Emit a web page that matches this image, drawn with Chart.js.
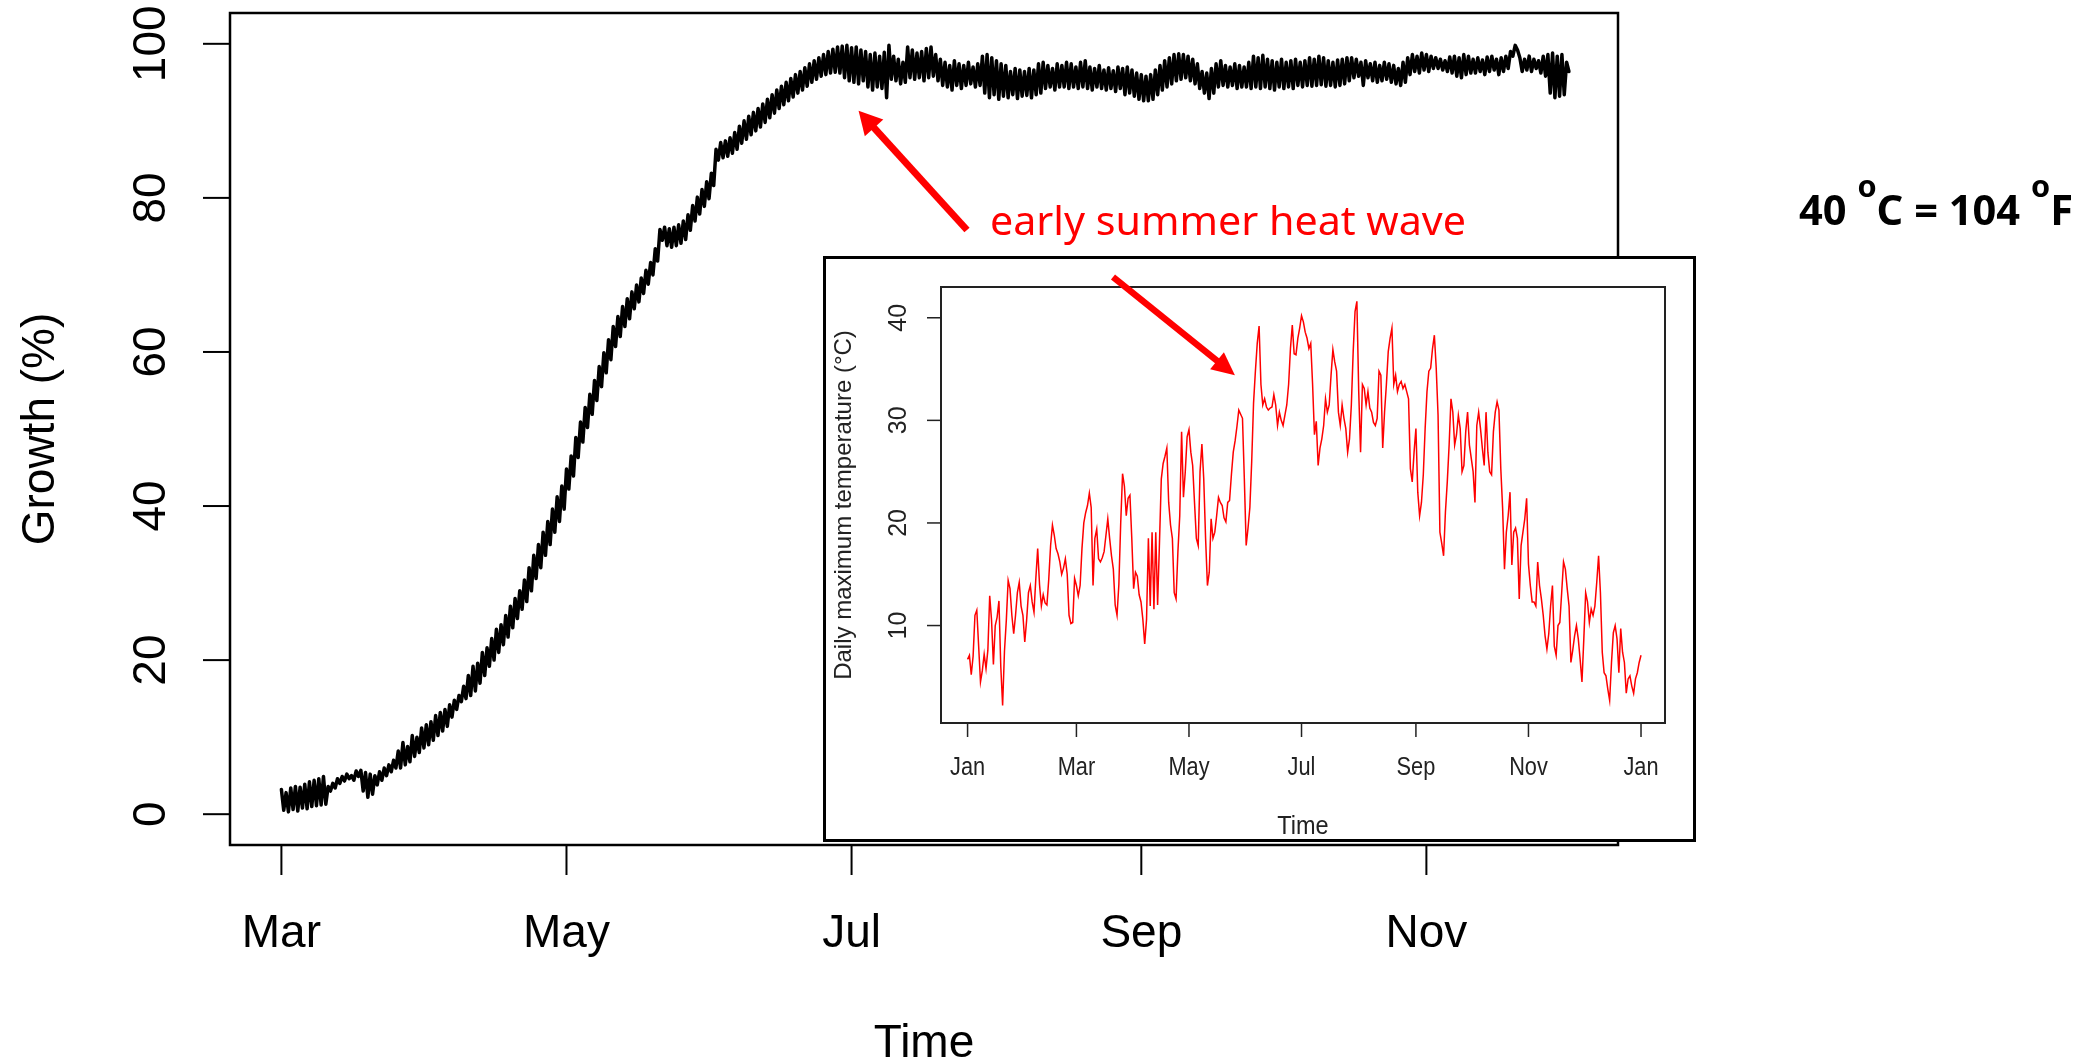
<!DOCTYPE html>
<html>
<head>
<meta charset="utf-8">
<script src="https://cdn.jsdelivr.net/npm/chart.js@4.4.0/dist/chart.umd.min.js"></script>
<style>
  html, body { margin: 0; padding: 0; background: #fff; }
  #page { position: relative; width: 2093px; height: 1061px; overflow: hidden; background: #fff; }
  #growthChart { position: absolute; left: 0; top: 0; }
  #tempChart { position: absolute; left: 823px; top: 256px; background: #fff; }
</style>
</head>
<body>
<div id="page">
  <canvas id="growthChart" width="2093" height="1061"></canvas>
  <canvas id="tempChart" width="873" height="586"></canvas>
</div>
<script>
// Main chart: day 0 = 1 March, one daily high and one daily low reading
const growthHigh = [
  3.2, 2.8, 3.4, 3.6, 3.5, 3.9, 4.2, 4.4, 4.6, 4.9,
  3.6, 4.0, 4.6, 4.9, 5.2, 5.0, 5.6, 5.7, 5.4, 5.2,
  5.0, 5.5, 6.0, 6.4, 7.0, 8.2, 9.3, 8.8, 10.2, 10.0,
  11.2, 11.6, 12.0, 12.8, 13.2, 13.6, 14.2, 14.8, 15.4, 16.6,
  18.0, 19.2, 19.6, 21.0, 21.6, 22.8, 24.0, 24.6, 25.8, 27.0,
  28.0, 29.0, 30.4, 32.0, 33.6, 35.0, 36.6, 38.0, 39.6, 41.2,
  42.6, 44.8, 46.5, 48.9, 50.9, 52.8, 54.5, 56.3, 58.1, 59.9,
  61.6, 63.3, 64.6, 65.9, 66.9, 67.8, 68.7, 69.6, 70.6, 71.6,
  73.4, 75.9, 76.2, 76.0, 76.2, 76.5, 77.0, 77.8, 79.0, 80.1,
  81.1, 82.1, 83.2, 86.3, 87.2, 87.4, 87.8, 88.5, 89.3, 90.0,
  90.6, 91.1, 91.6, 92.2, 92.8, 93.4, 94.0, 94.5, 95.0, 95.5,
  96.0, 96.4, 96.9, 97.4, 97.8, 98.2, 98.6, 99.0, 99.3, 99.6,
  99.7, 99.8, 99.5, 99.6, 99.2, 99.0, 98.6, 98.8, 98.4, 98.9,
  99.8, 98.4, 98.0, 97.6, 99.6, 99.2, 98.8, 99.0, 99.4, 99.6,
  98.6, 98.0, 97.6, 97.2, 97.8, 97.4, 97.2, 97.6, 97.0, 97.4,
  98.4, 98.6, 98.2, 97.8, 97.4, 97.2, 96.4, 96.8, 96.6, 96.4,
  96.8, 96.6, 97.4, 97.6, 97.2, 96.8, 97.4, 97.2, 97.6, 97.4,
  97.0, 97.6, 97.8, 97.0, 96.8, 97.2, 96.6, 96.9, 96.5, 97.0,
  96.8, 97.0, 96.6, 96.2, 96.0, 95.8, 96.0, 96.6, 97.2, 97.8,
  98.2, 98.6, 98.7, 98.6, 98.4, 98.0, 97.4, 96.4, 96.2, 96.8,
  97.4, 97.8, 97.2, 97.0, 97.4, 97.2, 97.0, 97.6, 98.4, 98.2,
  98.5, 98.0, 97.8, 97.6, 98.0, 97.6, 97.8, 98.0, 97.6, 97.8,
  98.2, 98.0, 98.4, 98.2, 97.8, 97.6, 97.9, 98.0, 98.2, 98.2,
  98.0, 97.6, 97.8, 97.4, 97.6, 97.2, 97.6, 97.4, 97.2, 96.8,
  97.6, 98.2, 98.6, 98.4, 98.8, 98.6, 98.4, 98.2, 98.0, 97.8,
  98.3, 98.4, 98.2, 98.6, 98.4, 98.0, 98.2, 97.9, 98.3, 98.4,
  98.0, 98.2, 98.4, 99.0, 99.8, 98.2, 98.0, 98.4, 98.0, 97.8,
  98.4, 98.6, 98.8, 98.4, 98.6, 97.6
];
const growthLow = [
  0.5, 0.3, 0.6, 0.4, 0.8, 0.7, 1.0, 1.1, 1.2, 1.3,
  3.0, 3.4, 4.0, 4.3, 4.6, 4.4, 4.9, 3.0, 2.2, 2.6,
  3.8, 4.4, 5.0, 5.5, 6.0, 6.0, 6.4, 6.8, 7.5, 8.0,
  8.6, 9.0, 9.6, 10.2, 10.8, 11.4, 12.6, 13.6, 14.6, 15.0,
  15.4, 16.0, 17.0, 18.0, 19.2, 20.0, 21.0, 22.0, 23.0, 24.2,
  25.4, 26.6, 27.6, 29.0, 30.6, 32.0, 33.6, 35.0, 36.6, 38.0,
  39.6, 42.2, 43.9, 46.3, 48.3, 50.2, 51.9, 53.7, 55.5, 57.3,
  59.0, 60.7, 62.0, 63.3, 64.3, 65.6, 66.5, 67.6, 68.8, 70.0,
  71.8, 74.5, 73.8, 73.6, 73.8, 74.1, 74.6, 75.8, 77.0, 77.9,
  78.9, 79.9, 81.6, 84.9, 85.2, 85.4, 85.8, 86.3, 87.1, 87.6,
  88.2, 88.7, 89.2, 89.8, 90.4, 91.0, 91.6, 92.1, 92.6, 93.1,
  93.6, 94.0, 94.5, 95.0, 95.4, 95.8, 96.0, 96.2, 96.3, 96.2,
  95.6, 95.2, 95.0, 94.8, 95.2, 94.4, 94.0, 94.4, 94.2, 93.0,
  95.4, 95.2, 94.8, 95.0, 95.6, 95.4, 95.6, 95.2, 95.6, 95.8,
  95.2, 94.6, 94.4, 94.0, 94.6, 94.2, 94.6, 94.8, 94.4, 94.6,
  93.6, 93.0, 93.4, 92.8, 93.2, 93.0, 93.4, 92.9, 93.2, 93.3,
  93.0, 93.4, 93.6, 94.2, 94.4, 94.0, 94.4, 94.4, 94.2, 94.4,
  94.2, 94.4, 94.2, 94.0, 94.4, 94.2, 94.0, 94.2, 93.8, 94.2,
  93.4, 93.6, 93.2, 92.8, 92.6, 92.6, 92.8, 93.4, 94.0, 94.4,
  94.8, 95.2, 95.4, 95.6, 95.2, 94.8, 94.2, 93.6, 92.9, 93.6,
  94.4, 94.6, 94.4, 94.6, 94.2, 94.4, 94.4, 94.2, 94.4, 94.2,
  94.4, 94.2, 94.0, 94.4, 94.2, 94.4, 94.2, 94.6, 94.4, 94.6,
  94.5, 94.6, 94.7, 94.5, 94.6, 94.4, 94.6, 94.8, 95.2, 95.6,
  95.8, 94.6, 95.6, 95.2, 95.0, 95.2, 95.4, 95.0, 94.8, 94.6,
  95.0, 96.0, 96.4, 96.2, 96.6, 96.4, 96.8, 96.8, 96.6, 96.4,
  96.2, 95.8, 95.6, 96.0, 96.2, 96.2, 96.4, 96.0, 96.4, 96.6,
  96.0, 96.4, 96.8, 98.4, 99.2, 96.4, 96.6, 96.4, 96.8, 96.2,
  95.8, 93.6, 93.0, 93.2, 93.4, 96.4
];
const growthTickDays = [0, 61, 122, 184, 245];
const growthTickLabels = ['Mar', 'May', 'Jul', 'Sep', 'Nov'];
const growthYTicks = [0, 20, 40, 60, 80, 100];

// Inset: daily maximum temperature, day 0 = 1 January
const tempMax = [
  6.7, 7.1, 5.2, 7.0, 11.0, 11.5, 8.0, 4.5, 5.6, 7.2,
  5.8, 7.6, 12.9, 10.5, 6.2, 10.0, 10.8, 12.4, 6.0, 2.2,
  7.5, 10.5, 14.4, 13.6, 11.0, 9.2, 11.0, 13.2, 14.2, 11.9,
  11.0, 8.4, 10.5, 13.2, 13.9, 12.3, 11.3, 14.6, 17.5, 14.0,
  11.9, 13.0, 12.2, 12.0, 14.5, 17.8, 19.8, 18.8, 17.5, 17.0,
  16.2, 15.0, 15.6, 16.5, 15.0, 11.0, 10.2, 10.3, 14.6, 13.9,
  12.9, 13.9, 17.5, 20.0, 21.0, 21.7, 22.9, 21.5, 13.9, 18.5,
  19.4, 16.5, 16.2, 16.6, 17.2, 18.8, 20.4, 18.5, 16.8, 15.5,
  12.0, 11.0, 14.0, 20.0, 24.8, 23.6, 20.7, 22.4, 22.7, 18.5,
  13.6, 15.2, 14.8, 13.0, 12.3, 10.6, 8.2, 10.6, 18.5, 11.9,
  19.1, 11.6, 19.1, 12.0, 18.0, 24.3, 25.8, 26.5, 27.3, 22.0,
  19.8, 18.5, 13.2, 12.6, 17.2, 20.7, 28.9, 22.5, 25.0, 28.4,
  29.1, 26.9, 25.6, 22.0, 18.5, 17.8, 25.0, 27.7, 24.3, 18.5,
  13.9, 15.2, 20.4, 18.5, 19.1, 20.7, 22.5, 22.0, 21.7, 20.5,
  20.1, 22.0, 22.2, 24.7, 26.9, 28.0, 29.4, 31.0, 30.6, 30.2,
  24.3, 17.8, 19.5, 21.5, 26.0, 31.7, 34.8, 37.5, 39.2, 33.5,
  31.5, 32.1, 31.3, 31.0, 31.2, 31.3, 32.5, 31.5, 29.5, 30.8,
  30.0, 29.5, 30.5, 31.5, 33.5, 37.0, 39.3, 36.5, 36.4, 38.0,
  39.0, 40.2, 39.6, 38.6, 38.0, 37.0, 37.5, 33.5, 28.6, 29.9,
  25.6, 27.3, 28.2, 29.5, 32.1, 30.8, 31.5, 34.4, 36.9, 35.7,
  34.8, 30.8, 29.5, 31.5, 30.2, 29.2, 26.9, 28.2, 31.5, 36.7,
  40.6, 41.6, 32.8, 26.9, 33.5, 33.1, 31.5, 32.8, 31.2, 30.8,
  29.8, 29.5, 30.2, 34.8, 34.4, 27.3, 30.8, 33.5, 36.7, 38.0,
  39.0, 33.5, 34.4, 32.8, 33.5, 33.8, 33.1, 33.5, 32.8, 32.1,
  25.3, 24.0, 26.9, 29.2, 23.0, 20.7, 22.0, 24.7, 29.2, 32.8,
  34.8, 35.1, 37.0, 38.3, 35.1, 30.5, 19.1, 18.0, 16.8, 21.1,
  24.0, 27.6, 32.1, 30.8, 27.6, 28.6, 30.5, 29.2, 25.0, 25.6,
  28.9, 30.8, 27.6, 26.3, 25.0, 22.0, 29.5, 30.8, 29.2, 27.3,
  25.6, 30.8, 26.9, 25.0, 24.7, 28.9, 30.8, 31.8, 31.0, 25.3,
  21.4, 15.5, 19.1, 20.7, 23.0, 15.9, 19.1, 19.5, 18.5, 12.6,
  17.8, 19.1, 20.4, 22.4, 16.0, 13.9, 12.3, 12.3, 11.9, 16.2,
  13.9, 12.6, 11.0, 9.0, 7.7, 9.2, 11.9, 13.9, 8.0, 7.1,
  10.0, 10.3, 13.2, 16.2, 15.5, 13.6, 11.9, 6.4, 7.6, 9.0,
  10.0, 8.7, 6.7, 4.5, 8.7, 13.2, 12.3, 10.3, 11.6, 11.0,
  11.9, 14.2, 16.8, 13.2, 7.4, 5.4, 5.1, 3.8, 2.7, 6.4,
  9.3, 10.0, 8.7, 5.4, 9.7, 7.4, 6.4, 3.4, 4.8, 5.1,
  4.1, 3.4, 4.8, 5.4, 6.4, 7.1
];
const tempTickDays = [0, 59, 120, 181, 243, 304, 365];
const tempTickLabels = ['Jan', 'Mar', 'May', 'Jul', 'Sep', 'Nov', 'Jan'];
const tempYTicks = [10, 20, 30, 40];

const growthPoints = [];
growthHigh.forEach((v, d) => {
  growthPoints.push({ x: d, y: v });
  growthPoints.push({ x: d + 0.5, y: growthLow[d] });
});
const tempPoints = tempMax.map((v, d) => ({ x: d, y: v }));

const SANS = '"Liberation Sans", Arial, Helvetica, sans-serif';

function line(ctx, x0, y0, x1, y1) {
  ctx.beginPath();
  ctx.moveTo(x0, y0);
  ctx.lineTo(x1, y1);
  ctx.stroke();
}

// text rotated to read bottom-to-top, baseline on the right
function upText(ctx, text, x, y) {
  ctx.save();
  ctx.translate(x, y);
  ctx.rotate(-Math.PI / 2);
  ctx.fillText(text, 0, 0);
  ctx.restore();
}

function squeezedText(ctx, text, x, y, sx) {
  ctx.save();
  ctx.translate(x, y);
  ctx.scale(sx, 1);
  ctx.fillText(text, 0, 0);
  ctx.restore();
}

function arrow(ctx, x0, y0, x1, y1, width, headLen, headHalf) {
  const len = Math.hypot(x1 - x0, y1 - y0);
  const ux = (x1 - x0) / len, uy = (y1 - y0) / len;
  const bx = x1 - ux * headLen, by = y1 - uy * headLen;
  ctx.lineWidth = width;
  ctx.lineCap = 'butt';
  line(ctx, x0, y0, bx + ux * 2, by + uy * 2);
  ctx.beginPath();
  ctx.moveTo(x1, y1);
  ctx.lineTo(bx - uy * headHalf, by + ux * headHalf);
  ctx.lineTo(bx + uy * headHalf, by - ux * headHalf);
  ctx.closePath();
  ctx.fill();
}

const growthDecor = {
  id: 'growthDecor',
  afterDraw(chart) {
    const { ctx, chartArea: a, scales: { x, y } } = chart;
    ctx.save();
    ctx.strokeStyle = '#000';
    ctx.fillStyle = '#000';
    ctx.lineWidth = 2.5;
    ctx.strokeRect(a.left, a.top, a.right - a.left, a.bottom - a.top);

    ctx.lineWidth = 2;
    ctx.font = '46px ' + SANS;
    ctx.textAlign = 'center';
    ctx.textBaseline = 'alphabetic';
    growthTickDays.forEach((d, i) => {
      const px = x.getPixelForValue(d);
      line(ctx, px, a.bottom, px, a.bottom + 30);
      ctx.fillText(growthTickLabels[i], px, 947);
    });
    growthYTicks.forEach(v => {
      const py = y.getPixelForValue(v);
      line(ctx, a.left - 27, py, a.left, py);
      upText(ctx, String(v), 165, py);
    });
    ctx.fillText('Time', (a.left + a.right) / 2, 1057);
    upText(ctx, 'Growth (%)', 54, (a.top + a.bottom) / 2);

    // annotation: arrow towards the dip after the heat wave
    ctx.fillStyle = '#ff0000';
    ctx.strokeStyle = '#ff0000';
    arrow(ctx, 967, 230, x.getPixelForValue(123.5), y.getPixelForValue(91.3), 7, 23, 12.5);

    ctx.font = '40px "Noto Sans", "Open Sans", sans-serif';
    ctx.textAlign = 'left';
    const label = 'early summer heat wave';
    squeezedText(ctx, label, 990, 235, 476 / ctx.measureText(label).width);

    // 40 oC = 104 oF, with raised small "o"
    ctx.fillStyle = '#000';
    const big = 'bold 42px "Noto Sans", "Open Sans", sans-serif';
    const small = 'bold 31px "Noto Sans", "Open Sans", sans-serif';
    const parts = [['40 ', big, 0], ['o', small, -28], ['C = 104 ', big, 0], ['o', small, -28], ['F', big, 0]];
    let total = 0;
    parts.forEach(p => { ctx.font = p[1]; total += ctx.measureText(p[0]).width; });
    const sx = 274 / total;
    let cx = 1799;
    parts.forEach(p => {
      ctx.font = p[1];
      squeezedText(ctx, p[0], cx, 225 + p[2], sx);
      cx += ctx.measureText(p[0]).width * sx;
    });
    ctx.restore();
  }
};

const tempDecor = {
  id: 'tempDecor',
  afterDraw(chart) {
    const { ctx, chartArea: a, scales: { x, y } } = chart;
    ctx.save();
    ctx.strokeStyle = '#000';
    ctx.fillStyle = '#222';
    ctx.lineWidth = 3;
    ctx.strokeRect(1.5, 1.5, chart.width - 3, chart.height - 3);

    ctx.strokeStyle = '#222';
    ctx.lineWidth = 2;
    ctx.strokeRect(a.left, a.top, a.right - a.left, a.bottom - a.top);
    ctx.lineWidth = 1.5;
    ctx.font = '25px ' + SANS;
    ctx.textAlign = 'center';
    ctx.textBaseline = 'alphabetic';
    tempTickDays.forEach((d, i) => {
      const px = x.getPixelForValue(d);
      line(ctx, px, a.bottom, px, a.bottom + 14);
      squeezedText(ctx, tempTickLabels[i], px, 519, 0.87);
    });
    tempYTicks.forEach(v => {
      const py = y.getPixelForValue(v);
      line(ctx, a.left - 14, py, a.left, py);
      upText(ctx, String(v), 83, py);
    });
    squeezedText(ctx, 'Time', (a.left + a.right) / 2, 578, 0.94);
    ctx.font = '24px ' + SANS;
    upText(ctx, 'Daily maximum temperature (\u00B0C)', 28, (a.top + a.bottom) / 2);

    ctx.fillStyle = '#ff0000';
    ctx.strokeStyle = '#ff0000';
    arrow(ctx, 290, 21, x.getPixelForValue(144.9), y.getPixelForValue(34.4), 6.5, 23, 11);
    ctx.restore();
  }
};

new Chart(document.getElementById('growthChart'), {
  type: 'line',
  data: {
    datasets: [{
      data: growthPoints,
      borderColor: '#000',
      borderWidth: 3.5,
      pointRadius: 0,
      tension: 0,
      borderJoinStyle: 'round',
      borderCapStyle: 'round'
    }]
  },
  options: {
    responsive: false,
    animation: false,
    events: [],
    layout: { padding: { left: 230, top: 13, right: 475, bottom: 216 } },
    plugins: { legend: { display: false }, tooltip: { enabled: false } },
    scales: {
      x: { type: 'linear', display: false, min: -11, max: 286 },
      y: { type: 'linear', display: false, min: -4, max: 104 }
    }
  },
  plugins: [growthDecor]
});

new Chart(document.getElementById('tempChart'), {
  type: 'line',
  data: {
    datasets: [{
      data: tempPoints,
      borderColor: '#ff0000',
      borderWidth: 1.5,
      pointRadius: 0,
      tension: 0
    }]
  },
  options: {
    responsive: false,
    animation: false,
    events: [],
    layout: { padding: { left: 118, top: 31, right: 31, bottom: 119 } },
    plugins: { legend: { display: false }, tooltip: { enabled: false } },
    scales: {
      x: { type: 'linear', display: false, min: -14.4, max: 378 },
      y: { type: 'linear', display: false, min: 0.5, max: 43 }
    }
  },
  plugins: [tempDecor]
});
</script>
</body>
</html>
